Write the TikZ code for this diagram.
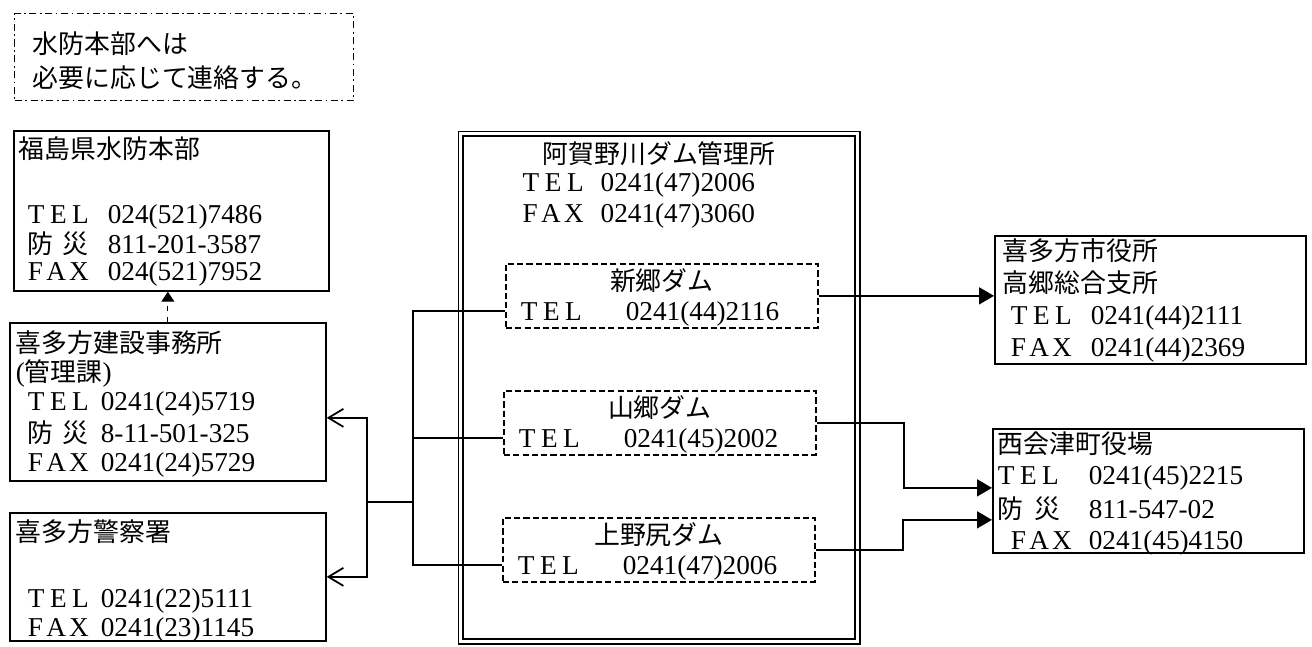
\documentclass[tikz,border=0pt]{standalone}
\usepackage{fontspec}
\setmainfont{Liberation Serif}
\newfontfamily\jp{Noto Sans CJK JP}[Scale=0.95]
\usetikzlibrary{arrows.meta}
\newcommand{\ctr}[1]{\hspace*{\fill}{#1}\hspace*{\fill}\null}
\newcommand{\tel}[1][1.22cm]{\makebox[#1][s]{T\hfil E\hfil L}}
\newcommand{\fax}[1][1.22cm]{\makebox[#1][s]{F\hfil A\hfil X}}
\newcommand{\bosai}[1][1.22cm]{\makebox[#1][s]{\jp 防\hfil 災}}
\newcommand{\numrow}[3]{\makebox[#1][l]{#2}#3}

\begin{document}
\begin{tikzpicture}[x=0.02cm,y=-0.02cm,
  base/.style={anchor=north west,align=left,inner ysep=0pt,line width=1pt,font=\fontsize{15.5pt}{0.54cm}\selectfont},
  box/.style={base,draw},
  note/.style={base,draw,line width=0.8pt,dash pattern=on 4pt off 2pt on 1pt off 2pt},
  dambox/.style={base,draw,dash pattern=on 3.5pt off 1.8pt,text width=6.04cm,inner xsep=0.1cm,text height=0.54cm,text depth=0.74cm},
  office/.style={base,draw,line width=0.8pt,double,double distance=0.07cm},
  link/.style={line width=1pt},
  arrow/.style={link,-{Triangle[length=3mm,width=3.4mm]}},
  back/.style={link,-{Straight Barb[length=3mm,width=3.6mm]}},
  dasharrow/.style={line width=0.7pt,dash pattern=on 3pt off 3pt,-{Triangle[length=2mm,width=2.6mm]}}]
\useasboundingbox (0,0) rectangle (1312,646);
\node[note,text width=6.06cm,inner xsep=0.36cm,text height=0.8cm,text depth=0.94cm] (memo) at (14,13) {{\jp 水防本部へは}\\[0.14cm]{\jp 必要に応じて連絡する。}};
\node[box,text width=6.1cm,inner xsep=0.1cm,text height=0.56cm,text depth=2.64cm] (fukushima) at (13,130) {{\jp 福島県水防本部}\\[0.76cm]
  \hspace*{0.18cm}\numrow{1.6cm}{\tel}{024(521)7486}\\
  \hspace*{0.18cm}\numrow{1.6cm}{\bosai}{811-201-3587}\\
  \hspace*{0.18cm}\numrow{1.6cm}{\fax}{024(521)7952}};
\node[box,text width=6.08cm,inner xsep=0.12cm,text height=0.6cm,text depth=2.56cm] (kensetsu) at (9,322) {{\jp 喜多方建設事務所}\\[0.04cm]({\jp 管理課})\\[0.04cm]
  \hspace*{0.24cm}\numrow{1.46cm}{\tel}{0241(24)5719}\\[0.04cm]
  \hspace*{0.24cm}\numrow{1.46cm}{\bosai}{8-11-501-325}\\[0.04cm]
  \hspace*{0.24cm}\numrow{1.46cm}{\fax}{0241(24)5729}};
\node[box,text width=6.08cm,inner xsep=0.12cm,text height=0.58cm,text depth=1.98cm] (police) at (9,512) {{\jp 喜多方警察署}\\[0.78cm]
  \hspace*{0.24cm}\numrow{1.46cm}{\tel}{0241(22)5111}\\[0.04cm]
  \hspace*{0.24cm}\numrow{1.46cm}{\fax}{0241(23)1145}};
\node[office,text width=7.74cm,inner xsep=0.1cm,text height=0.6cm,text depth=9.56cm] (agano) at (460,133) {\ctr{\jp 阿賀野川ダム管理所}\\[0.02cm]
  \hspace*{1.14cm}\numrow{1.56cm}{\tel}{0241(47)2006}\\[0.08cm]
  \hspace*{1.14cm}\numrow{1.56cm}{\fax}{0241(47)3060}};
\node[dambox] (shingo) at (505,263) {\ctr{\jp 新郷ダム}\\[0.06cm]\hspace*{0.2cm}\numrow{2.1cm}{\tel}{0241(44)2116}};
\node[dambox] (yamago) at (503,390) {\ctr{\jp 山郷ダム}\\[0.06cm]\hspace*{0.2cm}\numrow{2.1cm}{\tel}{0241(45)2002}};
\node[dambox] (kamino) at (502,517) {\ctr{\jp 上野尻ダム}\\[0.06cm]\hspace*{0.2cm}\numrow{2.1cm}{\tel}{0241(47)2006}};
\node[box,text width=5.9cm,inner xsep=0.16cm,text height=0.5cm,text depth=2.06cm] (takasato) at (994,235) {{\jp 喜多方市役所}\\[0.1cm]{\jp 高郷総合支所}\\[0.1cm]
  \hspace*{0.16cm}\numrow{1.6cm}{\tel}{0241(44)2111}\\[0.1cm]
  \hspace*{0.16cm}\numrow{1.6cm}{\fax}{0241(44)2369}};
\node[box,text width=6.02cm,inner xsep=0.1cm,text height=0.5cm,text depth=1.98cm] (nishi) at (992,428) {{\jp 西会津町役場}\\[0.08cm]
  \numrow{1.82cm}{\tel}{0241(45)2215}\\[0.08cm]
  \numrow{1.82cm}{\bosai[1.24cm]}{811-547-02}\\[0.08cm]
  \hspace*{0.26cm}\numrow{1.56cm}{\fax}{0241(45)4150}};
\coordinate (bus) at (413,502);
\coordinate (hub) at (367,502);
\draw[link] ([yshift=-3mm]shingo.west) -| (bus);
\draw[link] ([yshift=-3mm]yamago.west) -| (bus);
\draw[link] ([yshift=-3mm]kamino.west) -| (bus);
\draw[link] (bus) -- (hub);
\draw[back] (hub) |- ([yshift=-3.2mm]kensetsu.east);
\draw[back] (hub) |- (police.east);
\draw[dasharrow] (kensetsu.north) -- (kensetsu.north |- fukushima.south);
\draw[arrow] (shingo.east) -- (shingo.east -| takasato.west);
\draw[arrow] (yamago.east) -- ++(87,0) |- ([yshift=0.6mm]nishi.west);
\draw[arrow] (kamino.east) -- ++(87,0) |- ([yshift=-5.8mm]nishi.west);
\end{tikzpicture}
\end{document}
